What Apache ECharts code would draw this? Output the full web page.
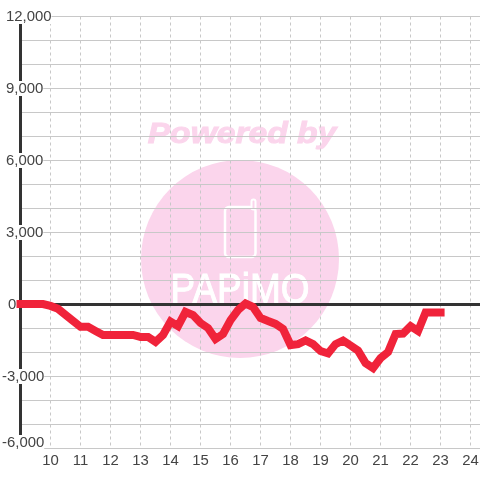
<!DOCTYPE html>
<html>
<head>
<meta charset="utf-8">
<style>html,body{margin:0;padding:0;background:#fff}#c{width:480px;height:480px}</style>
<script src="https://cdn.jsdelivr.net/npm/echarts@6/dist/echarts.min.js"></script>
</head>
<body>
<div id="c"></div>
<script>
const hours = [9,9.25,9.5,9.75,10,10.25,10.5,10.75,11,11.25,11.5,11.75,12,12.25,12.5,12.75,13,13.25,13.5,13.75,14,14.25,14.5,14.75,15,15.25,15.5,15.75,16,16.25,16.5,16.75,17,17.25,17.5,17.75,18,18.25,18.5,18.75,19,19.25,19.5,19.75,20,20.25,20.5,20.75,21,21.25,21.5,21.75,22,22.25,22.5,22.75,23];
const values = [20,20,20,20,-60,-180,-430,-680,-930,-930,-1100,-1270,-1270,-1270,-1270,-1270,-1350,-1350,-1560,-1270,-710,-900,-310,-440,-770,-980,-1440,-1230,-650,-230,40,-105,-560,-690,-810,-1020,-1690,-1650,-1500,-1650,-1940,-2040,-1650,-1500,-1710,-1920,-2440,-2650,-2230,-1980,-1230,-1210,-900,-1105,-330,-330,-330];
const yTickLabels = {12000:'a',9000:'a',6000:'a',3000:'a',0:'z','-3000':'n','-6000':'b'};
const xMin = 9, xMax = 24.33;
const pink = '#fbd5ec', ink = '#444', grid = '#c8c8c8', red = '#f0233a';
const fontFamily = '"Liberation Sans", Arial, sans-serif';
const fontSize = 14.9;

const chart = echarts.init(document.getElementById('c'), null, {renderer:'canvas'});
const box = {backgroundColor:'#fff', color:ink, fontSize, fontFamily, lineHeight:16};
chart.setOption({
  animation:false,
  backgroundColor:'#fff',
  grid:{left:20.5,top:16.5,width:460,height:432,containLabel:false,outerBoundsMode:'none'},
  graphic:[
    {type:'circle',z:-10,shape:{cx:240,cy:259,r:99},style:{fill:pink},silent:true},
    {type:'text',z:-9,x:242,y:135,scaleX:1.12,style:{text:'Powered by',fill:pink,font:'italic bold 30px "Liberation Sans"',align:'center',verticalAlign:'middle',stroke:pink,lineWidth:1},silent:true},
    {type:'rect',z:-9,shape:{x:225,y:207,width:30.5,height:50,r:4},style:{fill:'none',stroke:'#fff',lineWidth:2.5},silent:true},
    {type:'rect',z:-9,shape:{x:251.5,y:199.5,width:4,height:10,r:2},style:{fill:pink,stroke:'#fff',lineWidth:2},silent:true},
    {type:'text',z:-9,x:240,y:291,scaleX:0.88,style:{text:'PAPiMO',fill:'#fff',font:'42px "Liberation Sans"',align:'center',verticalAlign:'middle',stroke:'#fff',lineWidth:1},silent:true}
  ],
  xAxis:[
    {type:'value',min:xMin,max:xMax,interval:1,position:'bottom',
     axisLine:{show:false,onZero:false},axisTick:{show:false},
     axisLabel:{show:true,margin:5,color:ink,fontSize,fontFamily,hideOverlap:false,
       formatter:v=>(Number.isInteger(v)&&v>xMin)?String(v):''},
     splitLine:{show:true,showMinLine:false,showMaxLine:false,lineStyle:{color:grid,width:1,type:[3,3]}}},
    {type:'value',min:xMin,max:xMax,interval:1,position:'bottom',
     axisLine:{show:true,onZero:true,lineStyle:{color:'#333',width:3}},
     axisTick:{show:false},axisLabel:{show:false},splitLine:{show:false}}
  ],
  yAxis:{type:'value',min:-6000,max:12000,interval:1000,position:'left',
    axisLine:{show:true,onZero:false,lineStyle:{color:'#333',width:3}},
    axisTick:{show:false},
    splitLine:{show:true,lineStyle:{color:grid,width:1}},
    axisLabel:{show:true,align:'left',margin:18.5,showMinLabel:true,showMaxLabel:true,
      formatter:v=>{const k=yTickLabels[v];return k?`{${k}|${v===0?'0':(v<0?'-':'')+Math.abs(v).toLocaleString('en-US')}}`:''},
      rich:{
        a:{...box,padding:[0,0,0,4]},
        z:{...box,padding:[0,0,0,6]},
        n:{...box,padding:[0,0,0,0]},
        b:{...box,padding:[0,0,12,0]}
      }}
  },
  series:[{type:'line',xAxisIndex:0,data:hours.map((h,i)=>[h,values[i]]),showSymbol:false,clip:false,smooth:false,
    lineStyle:{color:red,width:8,cap:'square',join:'miter'},z:5}]
});
</script>
</body>
</html>
